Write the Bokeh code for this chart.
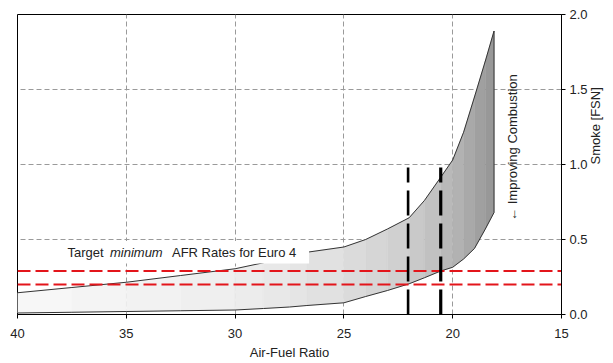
import numpy as np
from bokeh.plotting import figure
from bokeh.models import Range1d, FixedTicker, NumeralTickFormatter, Label
from bokeh.embed import file_html
from bokeh.resources import INLINE

# ---- data ----
afr = [40, 37.5, 35, 32.5, 30, 28.7, 27.5, 26.7, 25, 24, 23, 22, 21.3, 20.55, 20, 19.5, 19, 18.5, 18.1]
smoke_upper = [0.145, 0.18, 0.215, 0.26, 0.305, 0.345, 0.39, 0.415, 0.45, 0.50, 0.57, 0.645, 0.76, 0.915, 1.03, 1.215, 1.45, 1.69, 1.89]
smoke_lower = [0.01, 0.015, 0.02, 0.025, 0.03, 0.04, 0.05, 0.06, 0.078, 0.12, 0.16, 0.205, 0.245, 0.29, 0.315, 0.37, 0.44, 0.57, 0.68]
target_smoke = [0.20, 0.29]          # red dashed horizontal limits
target_afr = [22.05, 20.55]          # black dashed vertical AFR targets
target_afr_top = 0.98
x_ticks = [40, 35, 30, 25, 20, 15]
y_ticks = [0.0, 0.5, 1.0, 1.5, 2.0]

FONT = "Liberation Sans"
TXT = "#222222"

p = figure(width=613, height=363, output_backend="svg", toolbar_location=None,
           x_range=Range1d(40, 15), y_range=Range1d(0, 2.0),
           y_axis_location="right",
           min_border_left=17, min_border_top=14, min_border_right=48, min_border_bottom=49)

p.outline_line_color = "black"
p.outline_line_width = 1
p.background_fill_color = "white"
p.border_fill_color = "white"

# grid
for g in (p.xgrid, p.ygrid):
    g.grid_line_color = "#9a9a9a"
    g.grid_line_dash = "5 3"
    g.grid_line_width = 1
p.xgrid.ticker = FixedTicker(ticks=x_ticks[1:-1])
p.ygrid.ticker = FixedTicker(ticks=y_ticks[1:-1])

# axes
p.xaxis.ticker = FixedTicker(ticks=x_ticks)
p.yaxis.ticker = FixedTicker(ticks=y_ticks)
p.yaxis.formatter = NumeralTickFormatter(format="0.0")
for ax in (p.xaxis[0], p.yaxis[0]):
    ax.axis_line_color = "black"
    ax.major_tick_line_color = "black"
    ax.major_tick_out = 4
    ax.major_tick_in = 0
    ax.minor_tick_line_color = None
    ax.major_label_text_font = FONT
    ax.major_label_text_font_size = "13px"
    ax.major_label_text_color = TXT
    ax.axis_label_text_font = FONT
    ax.axis_label_text_font_size = "13px"
    ax.axis_label_text_font_style = "normal"
    ax.axis_label_text_color = TXT
p.xaxis.axis_label = "Air-Fuel Ratio"
p.yaxis.axis_label = "Smoke [FSN]"
p.yaxis.axis_label_orientation = np.pi / 2
p.xaxis.major_label_standoff = 10
p.xaxis.axis_label_standoff = 4
p.yaxis.major_label_standoff = 4
p.yaxis.axis_label_standoff = 5

# gradient band: one quad per consecutive pair of read points
stops_x = [40, 30, 25, 22, 20, 18.1]
stops_g = [248, 238, 222, 205, 182, 148]
xs, ys, cols = [], [], []
for i in range(len(afr) - 1):
    x0, x1 = afr[i], afr[i + 1]
    xs.append([x0, x1, x1, x0])
    ys.append([smoke_lower[i], smoke_lower[i + 1], smoke_upper[i + 1], smoke_upper[i]])
    gv = int(round(np.interp(-(x0 + x1) / 2, [-s for s in stops_x], stops_g)))
    cols.append("#%02x%02x%02x" % (gv, gv, gv))
p.patches(xs, ys, fill_color=cols, line_color=cols, line_width=0.4)

# band outline
p.line(afr, smoke_upper, line_color="#333333", line_width=1)
p.line(afr, smoke_lower, line_color="#333333", line_width=1)
p.line([afr[-1], afr[-1]], [smoke_lower[-1], smoke_upper[-1]], line_color="#333333", line_width=1)

# label background box
p.quad(left=[38.05], right=[26.6], bottom=[0.34], top=[0.49], fill_color="white", line_color=None)

# red target lines
for yv in target_smoke:
    p.line([40, 15], [yv, yv], line_color="#e3151b", line_width=2, line_dash="13 5")

# black AFR target lines
p.line([target_afr[0]] * 2, [0, target_afr_top], line_color="black", line_width=2.6, line_dash="25 8")
p.line([target_afr[1]] * 2, [0, target_afr_top], line_color="black", line_width=3.2, line_dash="25 8")

# annotation text
lab_y = 0.413
for x, txt, style in [(37.7, "Target", "normal"), (35.75, "minimum", "italic"), (32.9, "AFR Rates for Euro 4", "normal")]:
    p.add_layout(Label(x=x, y=lab_y, text=txt, text_font=FONT, text_font_size="13px",
                       text_font_style=style, text_color=TXT, text_align="left",
                       text_baseline="middle"))

p.add_layout(Label(x=17.26, y=1.113, text="\u2190 Improving Combustion", angle=np.pi / 2,
                   text_font=FONT, text_font_size="13px", text_color=TXT,
                   text_align="center", text_baseline="middle"))

open("out.html", "w").write(file_html(p, INLINE))
